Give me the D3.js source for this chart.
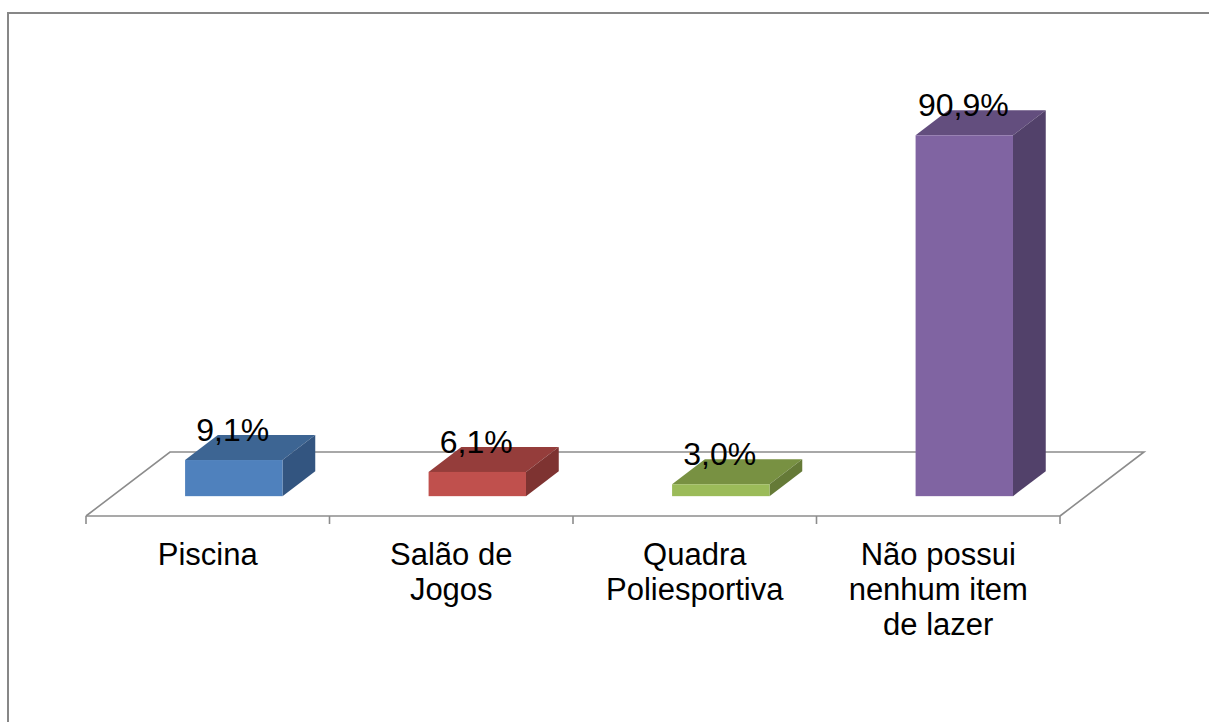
<!DOCTYPE html>
<html>
<head>
<meta charset="utf-8">
<script src="https://cdn.jsdelivr.net/npm/d3@7"></script>
<style>
  body { margin: 0; background: #fff; }
  text { font-family: 'Liberation Sans', Arial, sans-serif; fill: #000; }
</style>
</head>
<body>
<div id="chart"></div>
<script>
// data
const categories = [['Piscina'], ['Salão de', 'Jogos'], ['Quadra', 'Poliesportiva'], ['Não possui', 'nenhum item', 'de lazer']];
const values = [9.1, 6.1, 3.0, 90.9];
const valueLabels = ['9,1%', '6,1%', '3,0%', '90,9%'];
const frontColors = ['#4f81bd', '#c0504d', '#9bbb59', '#8064a2'];
const topColors = ['#3d6593', '#953d3b', '#789142', '#634e7e'];
const sideColors = ['#335580', '#7e3331', '#657a37', '#52416a'];

const svgwidth = 1209;
const svgheight = 722;
// floor of the 3d plot
const floorY = 516;
const depthX = 84;
const depthY = 64;
// bars sit between these fractions of the floor depth
const barFront = 0.31;
const barBack = 0.70;

const svg = d3.select('#chart').append('svg')
  .attr('width', svgwidth)
  .attr('height', svgheight);

// chart border (left and top only visible)
svg.append('path')
  .attr('d', `M8,${svgheight} L8,13 L${svgwidth},13`)
  .attr('fill', 'none')
  .attr('stroke', '#878787')
  .attr('stroke-width', 2);

const x = d3.scaleBand()
  .domain(d3.range(categories.length))
  .range([86, 1060])
  .padding(0);
const y = d3.scaleLinear()
  .domain([0, 100])
  .range([0, 397]);

const barW = x.bandwidth() / 2.5;
const fx = barFront * depthX;
const fy = barFront * depthY;
const bdx = (barBack - barFront) * depthX;
const bdy = (barBack - barFront) * depthY;

// floor: back edge and sides (behind the bars)
const x0 = x.range()[0];
const x1 = x.range()[1];
svg.append('path')
  .attr('d', `M${x0},${floorY} L${x0 + depthX},${floorY - depthY} L${x1 + depthX},${floorY - depthY} L${x1},${floorY}`)
  .attr('fill', 'none')
  .attr('stroke', '#8c8c8c')
  .attr('stroke-width', 1.6);

const bar = svg.selectAll('.bar')
  .data(values)
  .enter()
  .append('g')
  .attr('class', 'bar');

const left = (d, i) => x(i) + (x.bandwidth() / 2) - (barW / 2) + fx;
const base = floorY - fy;

// top face
bar.append('path')
  .attr('fill', (d, i) => topColors[i])
  .attr('d', (d, i) => {
    const l = left(d, i);
    const t = base - y(d);
    return `M${l},${t} L${l + bdx},${t - bdy} L${l + barW + bdx},${t - bdy} L${l + barW},${t} Z`;
  });
// side face
bar.append('path')
  .attr('fill', (d, i) => sideColors[i])
  .attr('d', (d, i) => {
    const r = left(d, i) + barW;
    const t = base - y(d);
    return `M${r},${t} L${r + bdx},${t - bdy} L${r + bdx},${base - bdy} L${r},${base} Z`;
  });
// front face
bar.append('rect')
  .attr('fill', (d, i) => frontColors[i])
  .attr('x', left)
  .attr('y', d => base - y(d))
  .attr('width', barW)
  .attr('height', d => y(d));

// value labels
bar.append('text')
  .attr('x', (d, i) => left(d, i) + (barW / 2) - 1)
  .attr('y', d => base - y(d) - 19)
  .attr('text-anchor', 'middle')
  .style('font-size', '32px')
  .text((d, i) => valueLabels[i]);

// front edge of floor + ticks
svg.append('line')
  .attr('x1', x0)
  .attr('x2', x1)
  .attr('y1', floorY)
  .attr('y2', floorY)
  .attr('stroke', '#8c8c8c')
  .attr('stroke-width', 1.6);
svg.selectAll('.tick')
  .data(d3.range(categories.length + 1))
  .enter()
  .append('line')
  .attr('class', 'tick')
  .attr('x1', i => (i < categories.length ? x(i) : x1))
  .attr('x2', i => (i < categories.length ? x(i) : x1))
  .attr('y1', floorY)
  .attr('y2', floorY + 8)
  .attr('stroke', '#8c8c8c')
  .attr('stroke-width', 1.6);

// category labels
const cat = svg.selectAll('.cat')
  .data(categories)
  .enter()
  .append('text')
  .attr('class', 'cat')
  .attr('text-anchor', 'middle')
  .style('font-size', '31px');
cat.selectAll('tspan')
  .data((d, i) => d.map(t => ({ t, i })))
  .enter()
  .append('tspan')
  .attr('x', d => x(d.i) + (x.bandwidth() / 2))
  .attr('y', (d, j) => 565 + (j * 35))
  .text(d => d.t);
</script>
</body>
</html>
